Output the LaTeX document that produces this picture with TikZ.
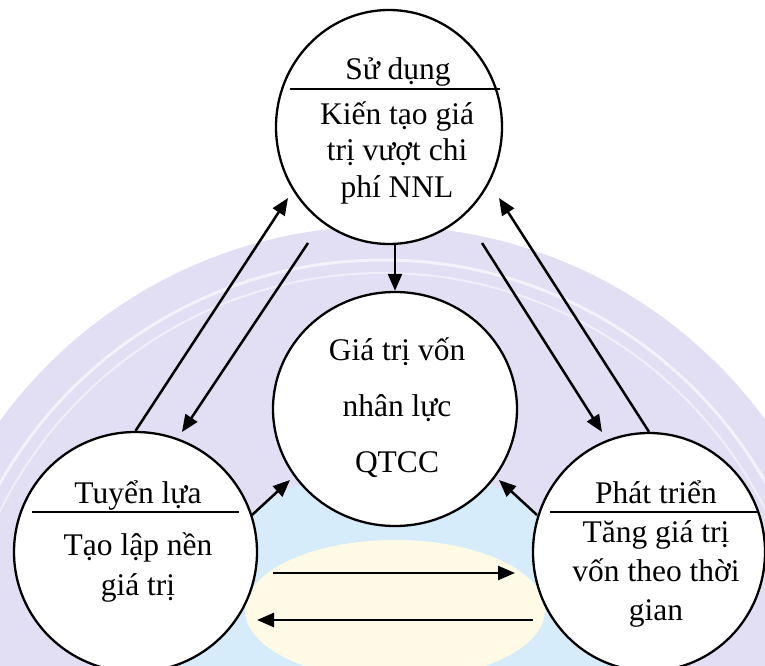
\documentclass[tikz,border=0pt]{standalone}
\usepackage{fontspec}
\setmainfont{Liberation Serif}
\usetikzlibrary{arrows.meta,shapes.geometric}
\definecolor{wmLav}{RGB}{226,223,244}
\definecolor{wmBlue}{RGB}{214,236,251}
\definecolor{wmYel}{RGB}{255,250,230}
\begin{document}
\begin{tikzpicture}[x=1pt,y=-1pt,
  bubble/.style={draw, line width=2.3pt, fill=white, ellipse, inner sep=0pt},
  conn/.style={line width=2.5pt, -{Triangle[length=17pt,width=14pt]}},
  divider/.style={line width=2.3pt},
  lbl/.style={font=\fontsize{31.5}{37}\selectfont, align=center, anchor=base, inner sep=0pt}]
\useasboundingbox (0,0) rectangle (765,666);

% faint seal in the background
\begin{scope}
  \clip (0,0) rectangle (765,666);
  \fill[wmLav] (383,700) circle[radius=474];
  \draw[white, line width=3pt, opacity=0.6] (383,700) circle[radius=440];
  \draw[white, line width=2pt, opacity=0.5] (383,700) circle[radius=427];
  \fill[wmBlue] (395,650) ellipse[x radius=215, y radius=185];
  \fill[wmYel] (395,610) ellipse[x radius=150, y radius=70];
\end{scope}

% circles
\node[bubble, minimum width=226pt, minimum height=234pt] (S) at (389,127) {};
\node[bubble, minimum width=244pt, minimum height=234pt] (C) at (395,409) {};
\node[bubble, minimum width=243pt, minimum height=240pt] (L) at (135.5,552) {};
\node[bubble, minimum width=232pt, minimum height=238pt] (R) at (649,552) {};

% texts (a multi-line node sits on the baseline of its last line)
\node[lbl] (Sh) at (398,80) {Sử dụng};
\node[lbl, font=\fontsize{31.5}{36.5}\selectfont] (Sb) at (397,197) {Kiến tạo giá\\trị vượt chi\\phí NNL};
\node[lbl, font=\fontsize{31.5}{56}\selectfont] (Cb) at (397,472) {Giá trị vốn\\nhân lực\\QTCC};
\node[lbl] (Lh) at (138,503) {Tuyển lựa};
\node[lbl, font=\fontsize{31.5}{40}\selectfont] (Lb) at (138,595) {Tạo lập nền\\giá trị};
\node[lbl] (Rh) at (656,503) {Phát triển};
\node[lbl, font=\fontsize{31.5}{39}\selectfont] (Rb) at (656,620) {Tăng giá trị\\vốn theo thời\\gian};

% dividers
\coordinate (Sd1) at (290,89);  \coordinate (Sd2) at (500,89);
\coordinate (Ld1) at (32,512);  \coordinate (Ld2) at (239,512);
\coordinate (Rd1) at (550,512); \coordinate (Rd2) at (758,512);
\draw[divider] (Sd1) -- (Sd2);
\draw[divider] (Ld1) -- (Ld2);
\draw[divider] (Rd1) -- (Rd2);

% connector ends
\coordinate (t1) at (288,198);
\coordinate (s2) at (308,243); \coordinate (t2) at (182,432);
\coordinate (s3) at (482,243); \coordinate (t3) at (602,432);
\coordinate (t4) at (499,198);
\coordinate (s6) at (252,515); \coordinate (t6) at (290,480);
\coordinate (s7) at (537,515); \coordinate (t7) at (499,480);
\coordinate (s8) at (273,573); \coordinate (t8) at (515,573);
\coordinate (s9) at (533,620); \coordinate (t9) at (257,620);

% connectors
\draw[conn] (L.north) -- (t1);
\draw[conn] (s2) -- (t2);
\draw[conn] (s3) -- (t3);
\draw[conn] (R.north) -- (t4);
\draw[conn] (C.north |- S.south) -- (C.north);
\draw[conn] (s6) -- (t6);
\draw[conn] (s7) -- (t7);
\draw[conn] (s8) -- (t8);
\draw[conn] (s9) -- (t9);
\end{tikzpicture}
\end{document}
